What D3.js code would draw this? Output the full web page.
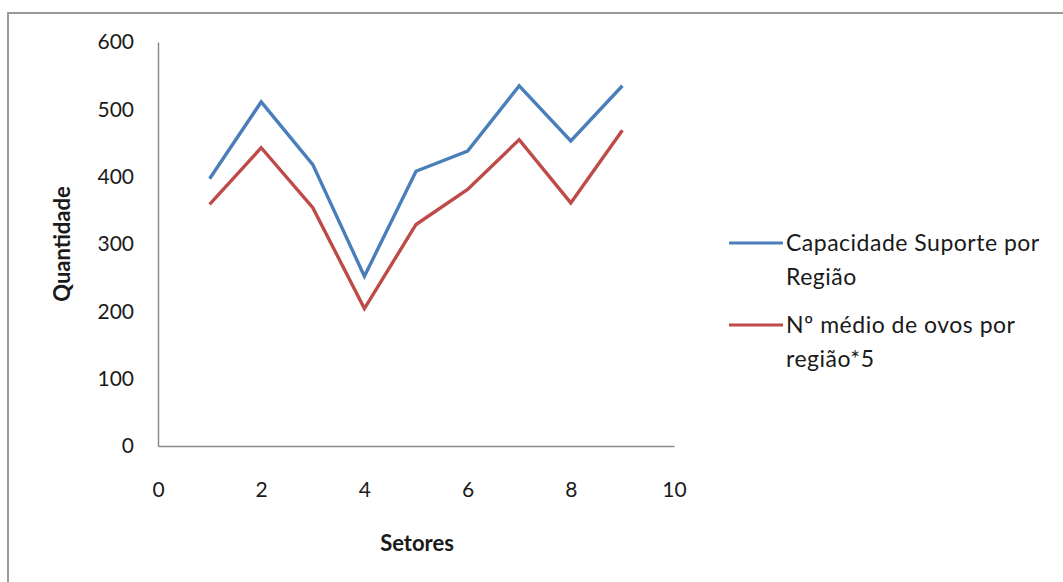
<!DOCTYPE html>
<html>
<head>
<meta charset="utf-8">
<script src="https://cdn.jsdelivr.net/npm/d3@7"></script>
<style>
  html, body { margin: 0; padding: 0; background: #fff; }
  svg { display: block; }
  text { font-family: Lato, "Open Sans", sans-serif; fill: #1a1a1a; }
</style>
</head>
<body>
<svg id="chart" width="1063" height="582"></svg>
<script>
// Sectors on the horizontal axis
const setores = [1, 2, 3, 4, 5, 6, 7, 8, 9];
// Carrying capacity per region
const capacidadeSuporte = [397, 511, 418, 252, 408, 438, 535, 453, 535];
// Mean number of eggs per region, multiplied by 5
const ovosPorRegiao = [359, 443, 354, 204, 329, 381, 455, 361, 469];

const xTicks = [0, 2, 4, 6, 8, 10];
const yTicks = [0, 100, 200, 300, 400, 500, 600];

const seriesNames = [
  ["Capacidade Suporte por", "Região"],
  ["Nº médio de ovos por", "região*5"]
];
const seriesColors = ["#4a7ebb", "#be4b48"];

const svg = d3.select("#chart");

// Outer chart frame (only top and left edges fall inside the view)
svg.append("rect")
  .attr("x", 8).attr("y", 13)
  .attr("width", 1080).attr("height", 600)
  .attr("fill", "none")
  .attr("stroke", "#9a9a9a")
  .attr("stroke-width", 2);

const plot = { left: 158, right: 674, top: 42, bottom: 446 };

const x = d3.scaleLinear().domain([0, 10]).range([plot.left, plot.right]);
const y = d3.scaleLinear().domain([0, 600]).range([plot.bottom, plot.top]);

// Axes: plain lines, no tick marks
const xAxis = svg.append("g")
  .attr("transform", `translate(0,${plot.bottom})`)
  .call(d3.axisBottom(x).tickValues(xTicks).tickSize(0).tickPadding(36).tickFormat(d3.format("d")));
const yAxis = svg.append("g")
  .attr("transform", `translate(${plot.left},0)`)
  .call(d3.axisLeft(y).tickValues(yTicks).tickSize(0).tickPadding(24).tickFormat(d3.format("d")));

[xAxis, yAxis].forEach(g => {
  g.select(".domain").attr("stroke", "#8c8c8c").attr("stroke-width", 1.5);
  g.selectAll("text")
    .style("font-family", "Lato, 'Open Sans', sans-serif")
    .style("font-size", "21px")
    .attr("fill", "#1a1a1a");
});

// Axis titles
svg.append("text")
  .attr("x", 417)
  .attr("y", 551)
  .attr("text-anchor", "middle")
  .style("font-size", "22px")
  .style("font-weight", "bold")
  .text("Setores");

svg.append("text")
  .attr("transform", `translate(70,${(plot.top + plot.bottom) / 2}) rotate(-90)`)
  .attr("text-anchor", "middle")
  .style("font-size", "22px")
  .style("font-weight", "bold")
  .text("Quantidade");

// Series lines
const line = d3.line()
  .x((d, i) => x(setores[i]))
  .y(d => y(d));

[capacidadeSuporte, ovosPorRegiao].forEach((vals, k) => {
  svg.append("path")
    .datum(vals)
    .attr("d", line)
    .attr("fill", "none")
    .attr("stroke", seriesColors[k])
    .attr("stroke-width", 3.4)
    .attr("stroke-linejoin", "miter");
});

// Legend
const legend = svg.append("g");
const legendRows = [243, 325];
seriesNames.forEach((lines, k) => {
  const yy = legendRows[k];
  legend.append("line")
    .attr("x1", 729).attr("x2", 783)
    .attr("y1", yy).attr("y2", yy)
    .attr("stroke", seriesColors[k])
    .attr("stroke-width", 3.2);
  lines.forEach((t, j) => {
    legend.append("text")
      .attr("x", 786)
      .attr("y", yy + 8 + j * 34)
      .style("font-size", "23px")
      .style("letter-spacing", "0.5px")
      .text(t);
  });
});
</script>
</body>
</html>
